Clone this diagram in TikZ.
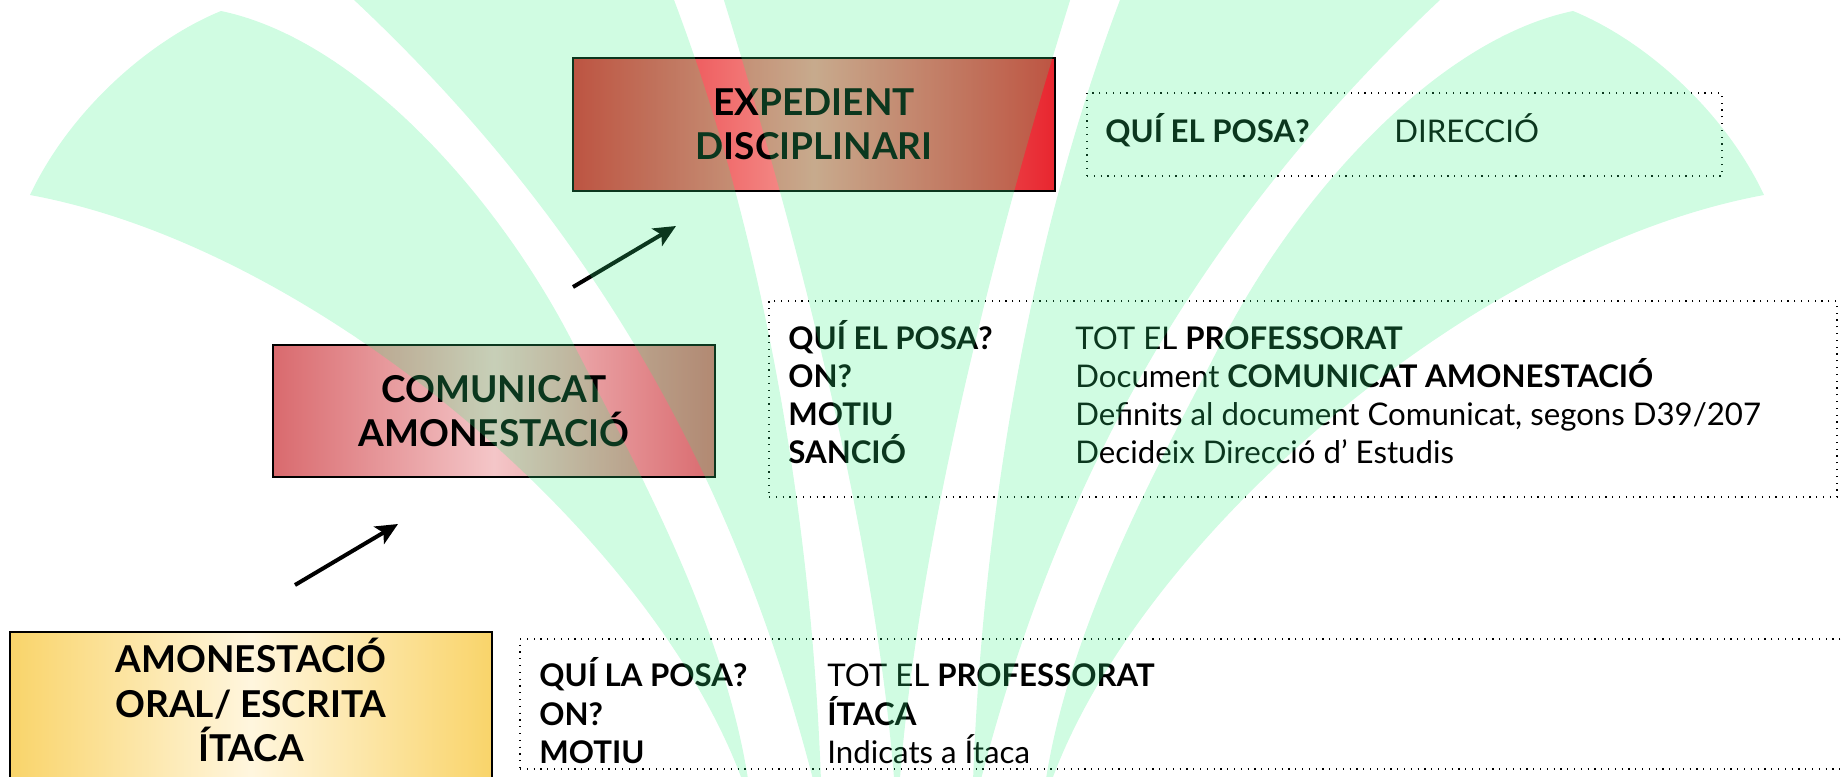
\documentclass[tikz,border=0pt]{standalone}
\usepackage{fontspec}
\setmainfont{Lato}
\usetikzlibrary{arrows.meta,fit}
\definecolor{fan}{RGB}{50,240,130}
\definecolor{exedge}{RGB}{232,38,47}
\definecolor{excenter}{RGB}{245,150,145}
\definecolor{coedge}{RGB}{217,106,110}
\definecolor{cocenter}{RGB}{244,198,200}
\definecolor{amedge}{RGB}{249,212,106}
\definecolor{amcenter}{RGB}{255,246,222}
\begin{document}
\begin{tikzpicture}[x=0.5pt,y=-0.5pt,
  shadebox/.style={draw=black, line width=0.8pt, inner sep=0pt},
  infobox/.style={draw=black, line width=0.6pt, dash pattern=on 0.6pt off 2.8pt, inner sep=0pt},
  boxtitle/.style={font=\fontsize{18.5pt}{22pt}\selectfont\bfseries, align=center, text=black, inner sep=0pt},
  lab/.style={font=\fontsize{15.6pt}{19pt}\selectfont\bfseries, anchor=base west, inner sep=0pt},
  val/.style={font=\fontsize{15.6pt}{19pt}\selectfont, anchor=base west, inner sep=0pt},
  arr/.style={-{Stealth[length=11pt,width=10pt,inset=2.5pt]}, line width=2pt, black},
  fanfill/.style={fill=fan, fill opacity=0.23}
]
\useasboundingbox (0,0) rectangle (1845,776);
\clip (0,0) rectangle (1845,776);

% coloured boxes
\node[shadebox, left color=exedge, right color=exedge, middle color=excenter, fit={(573,58) (1055,191)}] (exped) {};
\node[boxtitle] (expedtext) at (exped.center) {EXPEDIENT\\DISCIPLINARI};

\node[shadebox, left color=coedge, right color=coedge, middle color=cocenter, fit={(273,345) (715,477)}] (comun) {};
\node[boxtitle] (comuntext) at (comun.center) {COMUNICAT\\AMONESTACIÓ};

\node[shadebox, left color=amedge, right color=amedge, middle color=amcenter, fit={(10,632) (492,800)}] (amon) {};
\node[boxtitle, anchor=base] (amon1) at (251,672) {AMONESTACIÓ};
\node[boxtitle, anchor=base] (amon2) at (251,717) {ORAL/ ESCRITA};
\node[boxtitle, anchor=base] (amon3) at (251,761) {ÍTACA};

% info boxes
\node[infobox, fit={(1087,93) (1722,176)}] (info1) {};
\node[lab] (i1l1) at (1105,142) {QUÍ EL POSA?};
\node[val] (i1v1) at (1394,142) {DIRECCIÓ};

\node[infobox, fit={(769,301) (1837,497)}] (info2) {};
\node[lab] (i2l1) at (788,349) {QUÍ EL POSA?};
\node[lab] (i2l2) at (788,387) {ON?};
\node[lab] (i2l3) at (788,425) {MOTIU};
\node[lab] (i2l4) at (788,463) {SANCIÓ};
\node[val] (i2v1) at (1075,349) {TOT EL \textbf{PROFESSORAT}};
\node[val] (i2v2) at (1075,387) {Document \textbf{COMUNICAT AMONESTACIÓ}};
\node[val] (i2v3) at (1075,425) {Definits al document Comunicat, segons D39/207};
\node[val] (i2v4) at (1075,463) {Decideix Direcció d’ Estudis};

\node[infobox, fit={(520,639) (1870,769)}] (info3) {};
\node[lab] (i3l1) at (539,686) {QUÍ LA POSA?};
\node[lab] (i3l2) at (539,725) {ON?};
\node[lab] (i3l3) at (539,763) {MOTIU};
\node[val] (i3v1) at (827,686) {TOT EL \textbf{PROFESSORAT}};
\node[val] (i3v2) at (827,725) {\textbf{ÍTACA}};
\node[val] (i3v3) at (827,763) {Indicats a Ítaca};

% arrows
\coordinate (ar1s) at (295,585);
\coordinate (ar1e) at (398,524);
\coordinate (ar2s) at (573,287);
\coordinate (ar2e) at (676,226);
\draw[arr] (ar1s) -- (ar1e);
\draw[arr] (ar2s) -- (ar2e);

% translucent fan overlay
\fill[fanfill]
 (752,810) .. controls (680,560) and (330,250) .. (30,195)
   .. controls (70,110) and (150,40) .. (221,11)
   .. controls (360,40) and (500,200) .. (573,343)
   .. controls (634,463) and (735,640) .. (752,810) -- cycle
 (822,815) .. controls (760,560) and (640,250) .. (310,-40)
   -- (650,-60)
   .. controls (760,200) and (815,520) .. (822,815) -- cycle
 (897,822) .. controls (885,600) and (820,300) .. (705,-60)
   -- (1089,-60)
   .. controls (974,300) and (909,600) .. (897,822) -- cycle
 (972,815) .. controls (979,520) and (1034,200) .. (1144,-60)
   -- (1484,-40)
   .. controls (1154,250) and (1034,560) .. (972,815) -- cycle
 (1042,810) .. controls (1059,640) and (1160,463) .. (1221,343)
   .. controls (1294,200) and (1434,40) .. (1573,11)
   .. controls (1644,40) and (1724,110) .. (1764,195)
   .. controls (1464,250) and (1114,560) .. (1042,810) -- cycle;
\end{tikzpicture}
\end{document}
